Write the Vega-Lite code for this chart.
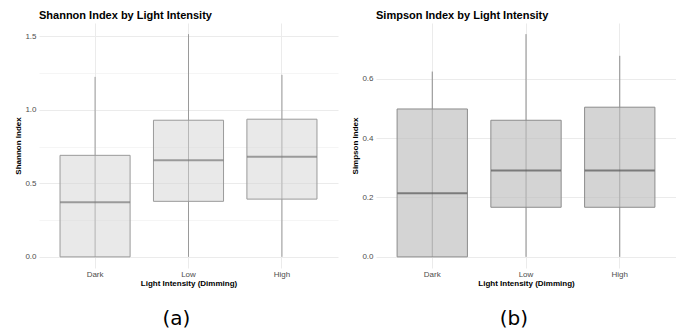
{
  "$schema": "https://vega.github.io/schema/vega-lite/v6.json",
  "background": "white",
  "padding": {"left": 14, "top": 10, "right": 0, "bottom": 0},
  "spacing": 13,
  "datasets": {
    "shannon": [
      {"group": "Dark", "min": 0, "q1": 0, "median": 0.371, "q3": 0.691, "max": 1.225},
      {"group": "Low", "min": 0, "q1": 0.378, "median": 0.657, "q3": 0.93, "max": 1.516},
      {"group": "High", "min": 0, "q1": 0.393, "median": 0.682, "q3": 0.937, "max": 1.239}
    ],
    "simpson": [
      {"group": "Dark", "min": 0, "q1": 0, "median": 0.214, "q3": 0.498, "max": 0.624},
      {"group": "Low", "min": 0, "q1": 0.167, "median": 0.291, "q3": 0.46, "max": 0.75},
      {"group": "High", "min": 0, "q1": 0.167, "median": 0.291, "q3": 0.504, "max": 0.677}
    ]
  },
  "config": {
    "font": "Liberation Sans",
    "view": {"stroke": null},
    "axis": {
      "domain": false,
      "ticks": false,
      "labelFont": "Liberation Sans",
      "labelFontSize": 8,
      "labelColor": "#4d4d4d",
      "titleFont": "Liberation Sans",
      "titleFontSize": 8,
      "titleFontWeight": "bold",
      "titleColor": "#000000",
      "gridColor": "#ebebeb"
    }
  },
  "hconcat": [
    {
      "title": {"text": "(a)", "orient": "bottom", "anchor": "middle", "font": "DejaVu Sans", "fontSize": 20, "fontWeight": "normal", "color": "#000000", "offset": 22},
      "vconcat": [
        {
          "title": {"text": "Shannon Index by Light Intensity", "anchor": "start", "frame": "group", "font": "Liberation Sans", "fontSize": 11, "fontWeight": "bold", "color": "#000000", "offset": 2},
          "width": 299,
          "height": 245,
          "data": {"name": "shannon"},
          "encoding": {
            "x": {
              "field": "group", "type": "nominal", "sort": ["Dark", "Low", "High"],
              "scale": {"paddingInner": 0.25, "paddingOuter": 0.225},
              "axis": {"title": "Light Intensity (Dimming)", "labelAngle": 0, "bandPosition": 0.5, "grid": true, "labelPadding": 2, "titlePadding": 1}
            }
          },
          "layer": [
            {
              "mark": {"type": "rule", "color": "#9a9a9a", "strokeWidth": 1},
              "encoding": {
                "y": {
                  "field": "min", "type": "quantitative",
                  "scale": {"domain": [-0.0758, 1.5918], "nice": false, "zero": false},
                  "axis": {
                    "title": "Shannon Index",
                    "values": [0, 0.25, 0.5, 0.75, 1, 1.25, 1.5],
                    "labelExpr": "abs(datum.value*2 - round(datum.value*2)) < 0.001 ? format(datum.value, '.1f') : ''",
                    "labelOverlap": false,
                    "labelPadding": 3,
                    "titlePadding": 2,
                    "gridWidth": {"condition": {"test": "abs(datum.value*2 - round(datum.value*2)) < 0.001", "value": 1}, "value": 0.5}
                  }
                },
                "y2": {"field": "max"}
              }
            },
            {
              "mark": {"type": "bar", "fill": "#d3d3d3", "fillOpacity": 0.5, "stroke": "#9a9a9a", "strokeWidth": 1},
              "encoding": {
                "y": {"field": "q1", "type": "quantitative", "title": "Shannon Index"},
                "y2": {"field": "q3"}
              }
            },
            {
              "mark": {"type": "tick", "color": "#777777", "thickness": 2, "size": 70},
              "encoding": {
                "y": {"field": "median", "type": "quantitative", "title": "Shannon Index"}
              }
            }
          ]
        }
      ]
    },
    {
      "title": {"text": "(b)", "orient": "bottom", "anchor": "middle", "font": "DejaVu Sans", "fontSize": 20, "fontWeight": "normal", "color": "#000000", "offset": 22},
      "vconcat": [
        {
          "title": {"text": "Simpson Index by Light Intensity", "anchor": "start", "frame": "group", "font": "Liberation Sans", "fontSize": 11, "fontWeight": "bold", "color": "#000000", "offset": 2},
          "width": 300,
          "height": 245,
          "data": {"name": "simpson"},
          "encoding": {
            "x": {
              "field": "group", "type": "nominal", "sort": ["Dark", "Low", "High"],
              "scale": {"paddingInner": 0.25, "paddingOuter": 0.225},
              "axis": {"title": "Light Intensity (Dimming)", "labelAngle": 0, "bandPosition": 0.5, "grid": true, "labelPadding": 2, "titlePadding": 1}
            }
          },
          "layer": [
            {
              "mark": {"type": "rule", "color": "#8c8c8c", "strokeWidth": 1},
              "encoding": {
                "y": {
                  "field": "min", "type": "quantitative",
                  "scale": {"domain": [-0.0375, 0.7875], "nice": false, "zero": false},
                  "axis": {
                    "title": "Simpson Index",
                    "values": [0, 0.1, 0.2, 0.3, 0.4, 0.5, 0.6, 0.7],
                    "labelExpr": "abs(datum.value*5 - round(datum.value*5)) < 0.001 ? format(datum.value, '.1f') : ''",
                    "labelOverlap": false,
                    "labelPadding": 3,
                    "titlePadding": 2,
                    "gridWidth": {"condition": {"test": "abs(datum.value*5 - round(datum.value*5)) < 0.001", "value": 1}, "value": 0.5}
                  }
                },
                "y2": {"field": "max"}
              }
            },
            {
              "mark": {"type": "bar", "fill": "#bebebe", "fillOpacity": 0.66, "stroke": "#8c8c8c", "strokeWidth": 1},
              "encoding": {
                "y": {"field": "q1", "type": "quantitative", "title": "Simpson Index"},
                "y2": {"field": "q3"}
              }
            },
            {
              "mark": {"type": "tick", "color": "#555555", "thickness": 2, "size": 70},
              "encoding": {
                "y": {"field": "median", "type": "quantitative", "title": "Simpson Index"}
              }
            }
          ]
        }
      ]
    }
  ]
}
